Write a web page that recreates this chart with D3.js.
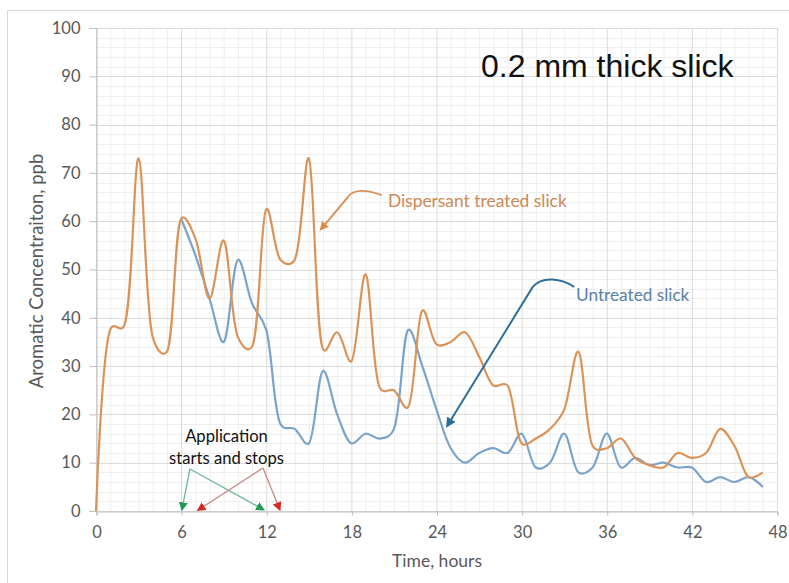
<!DOCTYPE html>
<html><head><meta charset="utf-8">
<script src="https://cdn.jsdelivr.net/npm/d3@7/dist/d3.min.js"></script>
<style>body{margin:0;background:#fff} svg{display:block}</style>
</head><body><svg id="c" width="789" height="583"></svg>
<script>
// ---- data ----
const hours = [0,1,2,3,4,5,6,7,8,9,10,11,12,13,14,15,16,17,18,19,20,21,22,23,24,25,26,27,28,29,30,31,32,33,34,35,36,37,38,39,40,41,42,43,44,45,46,47];
const dispersant = [0,37.5,38.5,73,36,33,60.5,56.5,44,56,36,34,62.5,52,52,73,33.5,37,31,49,25.5,25,21.5,41.5,34.5,35,37,32,26,26,14,15,17,21,33,13.5,13,15,11,9.5,9,12,11,12,17,13.5,7,8];
const untreatedHours = [6,7,8,9,10,11,12,13,14,15,16,17,18,19,20,21,22,23,24,25,26,27,28,29,30,31,32,33,34,35,36,37,38,39,40,41,42,43,44,45,46,47];
const untreated = [60.5,53,44,35,52,43,37.5,18,17,14,29,20,14,16,15,17,37.5,30,21,13,10,12,13,12,16,9,10,16,8,9,16,9,11,9.5,10,9,9,6,7,6,7,5];
const xTicks = [0,6,12,18,24,30,36,42,48];
const yTicks = [0,10,20,30,40,50,60,70,80,90,100];
const chartTitle = "0.2 mm thick slick";
const xTitle = "Time, hours";
const yTitle = "Aromatic Concentraiton, ppb";
const seriesLabels = ["Dispersant treated slick", "Untreated slick"];
const appLabel = ["Application", "starts and stops"];
// annotation anchors in data units [hour, ppb]
const dispArrow = {from:[20.15,65.4], top:[18.3,66.4], to:[15.85,58.3]};
const untrArrow = {from:[33.7,46.4], top:[31.9,48.0], to:[24.75,17.6]};
const startArrows = {from:[6.62,8.7], to:[[6.06,0.3],[11.8,0.3]]};
const stopArrows = {from:[11.77,8.9], to:[[7.2,0.2],[12.95,0.3]]};

// ---- layout ----
const svg = d3.select("#c");
const x = d3.scaleLinear().domain([0,48]).range([96,777]);
const y = d3.scaleLinear().domain([0,100]).range([511,28]);
const labelFont = "Lato, 'Open Sans', sans-serif";
const gray = "#595959";

// chart frame
svg.append("rect").attr("x",7.5).attr("y",10.5).attr("width",800).attr("height",600)
  .attr("fill","#fff").attr("stroke","#d9d9d9");

// minor grid
const g = svg.append("g");
g.selectAll(".mx").data(d3.range(0,49,1).filter(d=>d%6)).join("line")
  .attr("x1",d=>x(d)+0.5).attr("x2",d=>x(d)+0.5).attr("y1",y(100)).attr("y2",y(0))
  .attr("stroke","#efefef");
g.selectAll(".my").data(d3.range(0,101,2).filter(d=>d%10)).join("line")
  .attr("y1",d=>Math.round(y(d))+0.5).attr("y2",d=>Math.round(y(d))+0.5).attr("x1",x(0)).attr("x2",x(48))
  .attr("stroke","#efefef");
// major grid
g.selectAll(".Mx").data(xTicks).join("line")
  .attr("x1",d=>x(d)+0.5).attr("x2",d=>x(d)+0.5).attr("y1",y(100)).attr("y2",y(0))
  .attr("stroke","#dcdcdc");
g.selectAll(".My").data(yTicks).join("line")
  .attr("y1",d=>Math.round(y(d))+0.5).attr("y2",d=>Math.round(y(d))+0.5).attr("x1",x(0)).attr("x2",x(48))
  .attr("stroke","#dcdcdc");

// axes
const xAxis = svg.append("g").attr("transform",`translate(0.5,${y(0)+0.5})`)
  .call(d3.axisBottom(x).tickValues(xTicks).tickSize(4).tickPadding(11).tickFormat(d3.format("d")));
const yAxis = svg.append("g").attr("transform",`translate(${x(0)+0.5},0)`)
  .call(d3.axisLeft(y).tickValues(yTicks).tickSize(7).tickPadding(9).tickFormat(d3.format("d")));
[xAxis,yAxis].forEach(a=>{
  a.select(".domain").attr("stroke","#bfbfbf");
  a.selectAll(".tick line").attr("stroke","#bfbfbf");
  a.selectAll("text").attr("fill",gray).style("font-family",labelFont).style("font-size","16.5px");
});

// axis titles
svg.append("text").attr("x",437).attr("y",567).attr("text-anchor","middle")
  .attr("fill",gray).style("font-family",labelFont).style("font-size","17.5px").text(xTitle);
svg.append("text").attr("transform","translate(43,271) rotate(-90)").attr("text-anchor","middle")
  .attr("fill",gray).style("font-family",labelFont).style("font-size","18.5px").text(yTitle);

// series
const line = d3.line().curve(d3.curveCatmullRom.alpha(0.3)).x(d=>x(d[0])).y(d=>y(d[1]));
svg.append("path").datum(untreatedHours.map((h,i)=>[h,untreated[i]]))
  .attr("d",line).attr("fill","none").attr("stroke","#7aa4cb").attr("stroke-width",2.2);
svg.append("path").datum(hours.map((h,i)=>[h,dispersant[i]]))
  .attr("d",line).attr("fill","none").attr("stroke","#dc9358").attr("stroke-width",2.2);

// markers
const defs = svg.append("defs");
function marker(id,color,size){
  defs.append("marker").attr("id",id).attr("viewBox","0 0 10 10").attr("refX",8).attr("refY",5)
    .attr("markerWidth",size).attr("markerHeight",size).attr("markerUnits","userSpaceOnUse")
    .attr("orient","auto").append("path").attr("d","M0,0 L10,5 L0,10 Z").attr("fill",color);
}
marker("mo","#d98a4c",9);
marker("mb","#2a6f9b",10);
marker("mg","#1f9b57",9);
marker("mr","#d42a22",9);

// title
svg.append("text").attr("x",481).attr("y",77).attr("fill","#111")
  .style("font-family","'Liberation Sans', Arial, sans-serif").style("font-size","32px").text(chartTitle);

// dispersant annotation
const P = p=>[x(p[0]),y(p[1])];
{
  const a=P(dispArrow.from), t=P(dispArrow.top), b=P(dispArrow.to);
  svg.append("path").attr("d",`M${a} C${a[0]-14},${a[1]-5} ${t[0]-2},${t[1]-2} ${t[0]-8},${t[1]+7} L${b}`)
    .attr("fill","none").attr("stroke","#d9915a").attr("stroke-width",2).attr("marker-end","url(#mo)");
  svg.append("text").attr("x",a[0]+6).attr("y",a[1]+12).attr("fill","#cc8a55")
    .style("font-family",labelFont).style("font-size","17.4px").text(seriesLabels[0]);
}
// untreated annotation
{
  const a=P(untrArrow.from), t=P(untrArrow.top), b=P(untrArrow.to);
  svg.append("path").attr("d",`M${a} C${a[0]-12},${a[1]-8} ${t[0]-6},${t[1]-4} ${t[0]-16},${t[1]+8} L${b}`)
    .attr("fill","none").attr("stroke","#2e6f99").attr("stroke-width",2).attr("marker-end","url(#mb)");
  svg.append("text").attr("x",a[0]+2).attr("y",a[1]+14).attr("fill","#5b80aa")
    .style("font-family",labelFont).style("font-size","17.2px").text(seriesLabels[1]);
}
// application arrows
startArrows.to.forEach(tp=>{
  svg.append("line").attr("x1",x(startArrows.from[0])).attr("y1",y(startArrows.from[1]))
    .attr("x2",x(tp[0])).attr("y2",y(tp[1])).attr("stroke","#6ab892").attr("stroke-width",1.3)
    .attr("marker-end","url(#mg)");
});
stopArrows.to.forEach(tp=>{
  svg.append("line").attr("x1",x(stopArrows.from[0])).attr("y1",y(stopArrows.from[1]))
    .attr("x2",x(tp[0])).attr("y2",y(tp[1])).attr("stroke","#c98a86").attr("stroke-width",1.3)
    .attr("marker-end","url(#mr)");
});
svg.append("text").attr("x",226.5).attr("y",442).attr("text-anchor","middle").attr("fill","#111")
  .style("font-family",labelFont).style("font-size","16.6px").text(appLabel[0]);
svg.append("text").attr("x",226.5).attr("y",464).attr("text-anchor","middle").attr("fill","#111")
  .style("font-family",labelFont).style("font-size","16.6px").text(appLabel[1]);
</script></body></html>
